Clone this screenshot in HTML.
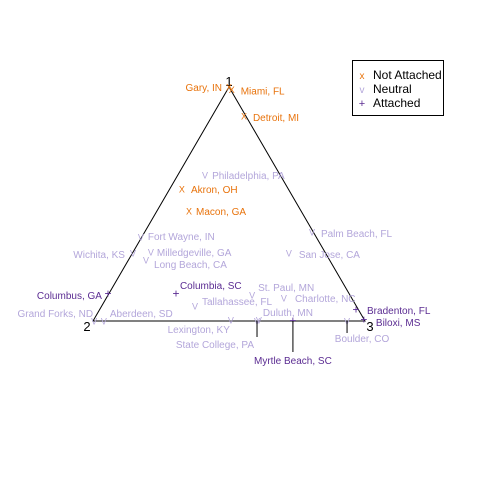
<!DOCTYPE html>
<html><head><meta charset="utf-8"><style>
body{margin:0;background:#fff}
svg{display:block;font-family:"Liberation Sans",sans-serif}
</style></head><body>
<svg width="480" height="480">
<polygon points="229,87 93,321 365,321" fill="none" stroke="#000" stroke-width="1"/>
<text x="229" y="86" font-size="13" text-anchor="middle">1</text>
<text x="87" y="331" font-size="13" text-anchor="middle">2</text>
<text x="370" y="331" font-size="13" text-anchor="middle">3</text>
<g id="marks"></g>
<g>
<rect x="352.5" y="60.5" width="91" height="55" fill="#fff" stroke="#000"/>
<text x="362" y="79" font-size="10" fill="#e8730c" text-anchor="middle">x</text>
<text x="373" y="79" font-size="12">Not Attached</text>
<text x="362" y="93" font-size="10" fill="#b3a6da" text-anchor="middle">v</text>
<text x="373" y="93" font-size="12">Neutral</text>
<text x="362" y="107" font-size="11" fill="#5b2c92" text-anchor="middle">+</text>
<text x="373" y="107" font-size="12">Attached</text>
</g>
</svg>
<script>
const names=["Gary, IN","Miami, FL","Detroit, MI","Akron, OH","Macon, GA","Philadelphia, PA","Fort Wayne, IN","Wichita, KS","Milledgeville, GA","Long Beach, CA","Palm Beach, FL","San Jose, CA","St. Paul, MN","Charlotte, NC","Tallahassee, FL","Grand Forks, ND","Aberdeen, SD","Lexington, KY","State College, PA","Duluth, MN","Boulder, CO","Columbus, GA","Columbia, SC","Myrtle Beach, SC","Bradenton, FL","Biloxi, MS"];
const groups=[0,0,0,0,0,1,1,1,1,1,1,1,1,1,1,1,1,1,1,1,1,2,2,2,2,2];
const uVals=[0.50,0.51,0.555,0.327,0.353,0.412,0.176,0.147,0.213,0.195,0.805,0.72,0.585,0.702,0.375,0.004,0.04,0.507,0.603,0.61,0.934,0.055,0.305,0.735,0.967,0.996];
const vVals=[1.0,0.99,0.876,0.564,0.47,0.624,0.359,0.291,0.295,0.261,0.38,0.291,0.111,0.098,0.064,0,0,0.004,0,0.004,0,0.115,0.115,0,0.047,0.004];
// label layout offsets (dx, dy, anchor, leader length)
const lay=[[-7,0,"end",0],[9,1,"start",0],[9,1,"start",0],[9,0,"start",0],[7,0,"start",0],[7,0,"start",0],[7,-1,"start",0],[-8,1,"end",0],[6,0,"start",0],[8,4,"start",0],[9,1,"start",0],[10,1,"start",0],[6,-8,"start",0],[11,0,"start",0],[7,-5,"start",0],[-1,-8,"end",0],[6,-8,"start",0],[-1,9,"end",0],[-3,23,"end",16],[4,-8,"start",0],[15,17,"middle",12],[-6,1,"end",0],[4,-9,"start",0],[0,39,"middle",31],[11,0,"start",0],[12,2,"start",0]];
const colors=["#e8730c","#b3a6da","#5b2c92"];
const glyphs=["X","V","+"];
const xS=u=>93+u*272, yS=v=>321-v*234;
const g=document.getElementById("marks"),NS="http://www.w3.org/2000/svg";
names.forEach((n,i)=>{
  const x=xS(uVals[i]),y=yS(vVals[i]),L=lay[i],c=colors[groups[i]];
  const m=document.createElementNS(NS,"text");
  
  
  m.setAttribute("x",x);m.setAttribute("y",y+3.5);m.setAttribute("text-anchor","middle");
  m.setAttribute("font-size",groups[i]==2?"12":"9");m.setAttribute("fill",c);m.textContent=glyphs[groups[i]];
  g.appendChild(m);
  if(L[3]>0){const ln=document.createElementNS(NS,"line");
    
    
    ln.setAttribute("x1",x);ln.setAttribute("x2",x);ln.setAttribute("y1",y);ln.setAttribute("y2",y+L[3]);ln.setAttribute("stroke","#000");g.appendChild(ln);}
  const t=document.createElementNS(NS,"text");
  
  
  t.setAttribute("x",x+L[0]);t.setAttribute("y",y+L[1]+4);t.setAttribute("text-anchor",L[2]);
  t.setAttribute("font-size","10");t.setAttribute("fill",c);t.textContent=n;g.appendChild(t);
});
</script>
</body></html>
